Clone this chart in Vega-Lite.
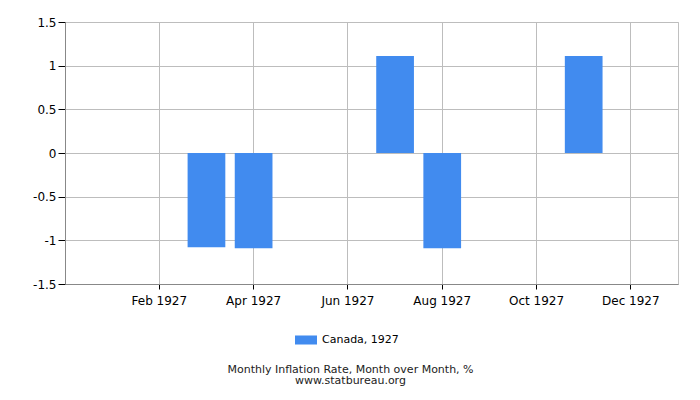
{
  "$schema": "https://vega.github.io/schema/vega-lite/v6.json",
  "width": 613,
  "height": 262,
  "autosize": "none",
  "padding": {"left": 65, "top": 22, "right": 22, "bottom": 116},
  "background": "white",
  "config": {
    "font": "DejaVu Sans",
    "view": {"stroke": "#c0c0c0"},
    "axis": {"labelFont": "DejaVu Sans", "labelFontSize": 12, "labelColor": "#000", "gridColor": "#bdbdbd", "tickColor": "#000", "domainColor": "#888"}
  },
  "title": {
    "text": ["Monthly Inflation Rate, Month over Month, %", "www.statbureau.org"],
    "orient": "bottom",
    "anchor": "middle",
    "fontSize": 11,
    "fontWeight": "normal",
    "lineHeight": 11,
    "color": "#222",
    "offset": 19,
    "dx": -21
  },
  "data": {
    "values": [
      {"month": "Jan 1927", "rate": 0, "series": "Canada, 1927"},
      {"month": "Feb 1927", "rate": 0, "series": "Canada, 1927"},
      {"month": "Mar 1927", "rate": -1.08, "series": "Canada, 1927"},
      {"month": "Apr 1927", "rate": -1.09, "series": "Canada, 1927"},
      {"month": "May 1927", "rate": 0, "series": "Canada, 1927"},
      {"month": "Jun 1927", "rate": 0, "series": "Canada, 1927"},
      {"month": "Jul 1927", "rate": 1.11, "series": "Canada, 1927"},
      {"month": "Aug 1927", "rate": -1.09, "series": "Canada, 1927"},
      {"month": "Sep 1927", "rate": 0, "series": "Canada, 1927"},
      {"month": "Oct 1927", "rate": 0, "series": "Canada, 1927"},
      {"month": "Nov 1927", "rate": 1.11, "series": "Canada, 1927"},
      {"month": "Dec 1927", "rate": 0, "series": "Canada, 1927"}
    ]
  },
  "mark": {"type": "bar"},
  "encoding": {
    "x": {
      "field": "month",
      "type": "ordinal",
      "sort": null,
      "scale": {
        "domain": ["Jan 1927", "Feb 1927", "Mar 1927", "Apr 1927", "May 1927", "Jun 1927", "Jul 1927", "Aug 1927", "Sep 1927", "Oct 1927", "Nov 1927", "Dec 1927"],
        "paddingInner": 0.2,
        "paddingOuter": 0.6
      },
      "axis": {
        "title": null,
        "values": ["Feb 1927", "Apr 1927", "Jun 1927", "Aug 1927", "Oct 1927", "Dec 1927"],
        "labelAngle": 0,
        "grid": true,
        "tickSize": 5,
        "labelPadding": 6,
        "domainColor": "#888"
      }
    },
    "y": {
      "field": "rate",
      "type": "quantitative",
      "scale": {"domain": [-1.5, 1.5], "nice": false},
      "axis": {
        "title": null,
        "values": [-1.5, -1, -0.5, 0, 0.5, 1, 1.5],
        "labelExpr": "datum.value + ''",
        "tickSize": 7,
        "labelPadding": 2,
        "domainColor": "#888"
      }
    },
    "color": {
      "field": "series",
      "type": "nominal",
      "scale": {"range": ["#418bef"]},
      "legend": {
        "title": null,
        "orient": "none",
        "legendX": 229,
        "legendY": 306,
        "symbolType": "M-1,-0.41L1,-0.41L1,0.41L-1,0.41Z",
        "symbolSize": 484,
        "labelFontSize": 11,
        "labelColor": "#000",
        "direction": "horizontal"
      }
    }
  }
}
